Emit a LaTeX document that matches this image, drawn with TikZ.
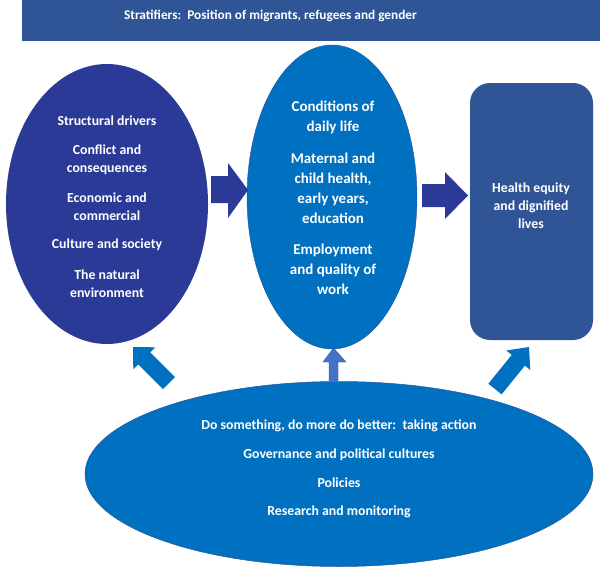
\documentclass[tikz,border=0pt]{standalone}
\usepackage{fontspec}
\setmainfont{Carlito}
\usetikzlibrary{shapes.geometric}
\definecolor{navy}{HTML}{2B3A97}
\definecolor{midblue}{HTML}{0070C0}
\definecolor{steel}{HTML}{2F5597}
\definecolor{lightb}{HTML}{4472C4}
\tikzset{
  txt/.style={text=white, font=\bfseries\fontsize{13.8}{18}\selectfont, align=center},
  txtm/.style={text=white, font=\bfseries\fontsize{15}{20}\selectfont, align=center},
  txtb/.style={text=white, font=\bfseries\fontsize{13.3}{18}\selectfont, align=center},
}
\begin{document}
\begin{tikzpicture}[x=1pt,y=-1pt]
\useasboundingbox (0,0) rectangle (600,573);
% banner
\node[fill=steel, minimum width=578pt, minimum height=41pt, inner sep=0pt] (banner) at (311,20.5) {};
\node[txtb] (bt) at (270.5,16) {Stratifiers:\ \ Position of migrants, refugees and gender};
% left ellipse
\node[ellipse, fill=navy, minimum width=202pt, minimum height=280pt, inner sep=0pt] (left) at (107,204) {};
\node[txt] (l1) at (107,121) {Structural drivers};
\node[txt] (l2) at (107,160) {Conflict and\\consequences};
\node[txt] (l3) at (107,207) {Economic and\\commercial};
\node[txt] (l4) at (107,245) {Culture and society};
\node[txt] (l5) at (107,284) {The natural\\environment};
% middle ellipse
\node[ellipse, fill=midblue, draw=steel, line width=0.4pt, minimum width=170pt, minimum height=304pt, inner sep=0pt] (mid) at (332,197) {};
\node[txtm] (m1) at (333,117) {Conditions of\\daily life};
\node[txtm] (m2) at (333,188) {Maternal and\\child health,\\early years,\\education};
\node[txtm] (m3) at (333,269) {Employment\\and quality of\\work};
% right rounded rect
\node[rounded corners=20pt, fill=steel, minimum width=123pt, minimum height=257pt, inner sep=0pt] (right) at (531.5,211.5) {};
\node[txt] (r1) at (531,206) {Health equity\\and dignified\\lives};
% bottom ellipse
\node[ellipse, fill=midblue, draw=steel, line width=0.5pt, minimum width=508pt, minimum height=185pt, inner sep=0pt] (bot) at (339,474) {};
\node[txt] (b1) at (339,426) {Do something, do more do better:\ \ taking action};
\node[txt] (b2) at (339,455) {Governance and political cultures};
\node[txt] (b3) at (339,483) {Policies};
\node[txt] (b4) at (339,512) {Research and monitoring};
% horizontal block arrows
\fill[navy] (211,176) -- (228,176) -- (228,163) -- (248,190) -- (228,218) -- (228,203) -- (211,203) -- cycle;
\fill[navy] (422,184) -- (445,184) -- (445,172) -- (468,195.5) -- (445,219) -- (445,207) -- (422,207) -- cycle;
% centre up arrow
\filldraw[fill=lightb, draw=steel, line width=0.4pt] (329,381) -- (329,362) -- (323,362) -- (333.5,348) -- (346,362) -- (338,362) -- (338,381) -- cycle;
% left diagonal arrow
\fill[midblue] (175,377) -- (150.3,352.3) -- (155.3,347.3) -- (133,347) -- (133.3,369.3) -- (138.3,364.3) -- (163,389) -- cycle;
% right diagonal arrow
\fill[midblue] (501.6,394.4) -- (524.9,365.6) -- (530.3,370) -- (529,347) -- (506.3,350.5) -- (511.7,354.9) -- (488.4,383.7) -- cycle;
\end{tikzpicture}
\end{document}
